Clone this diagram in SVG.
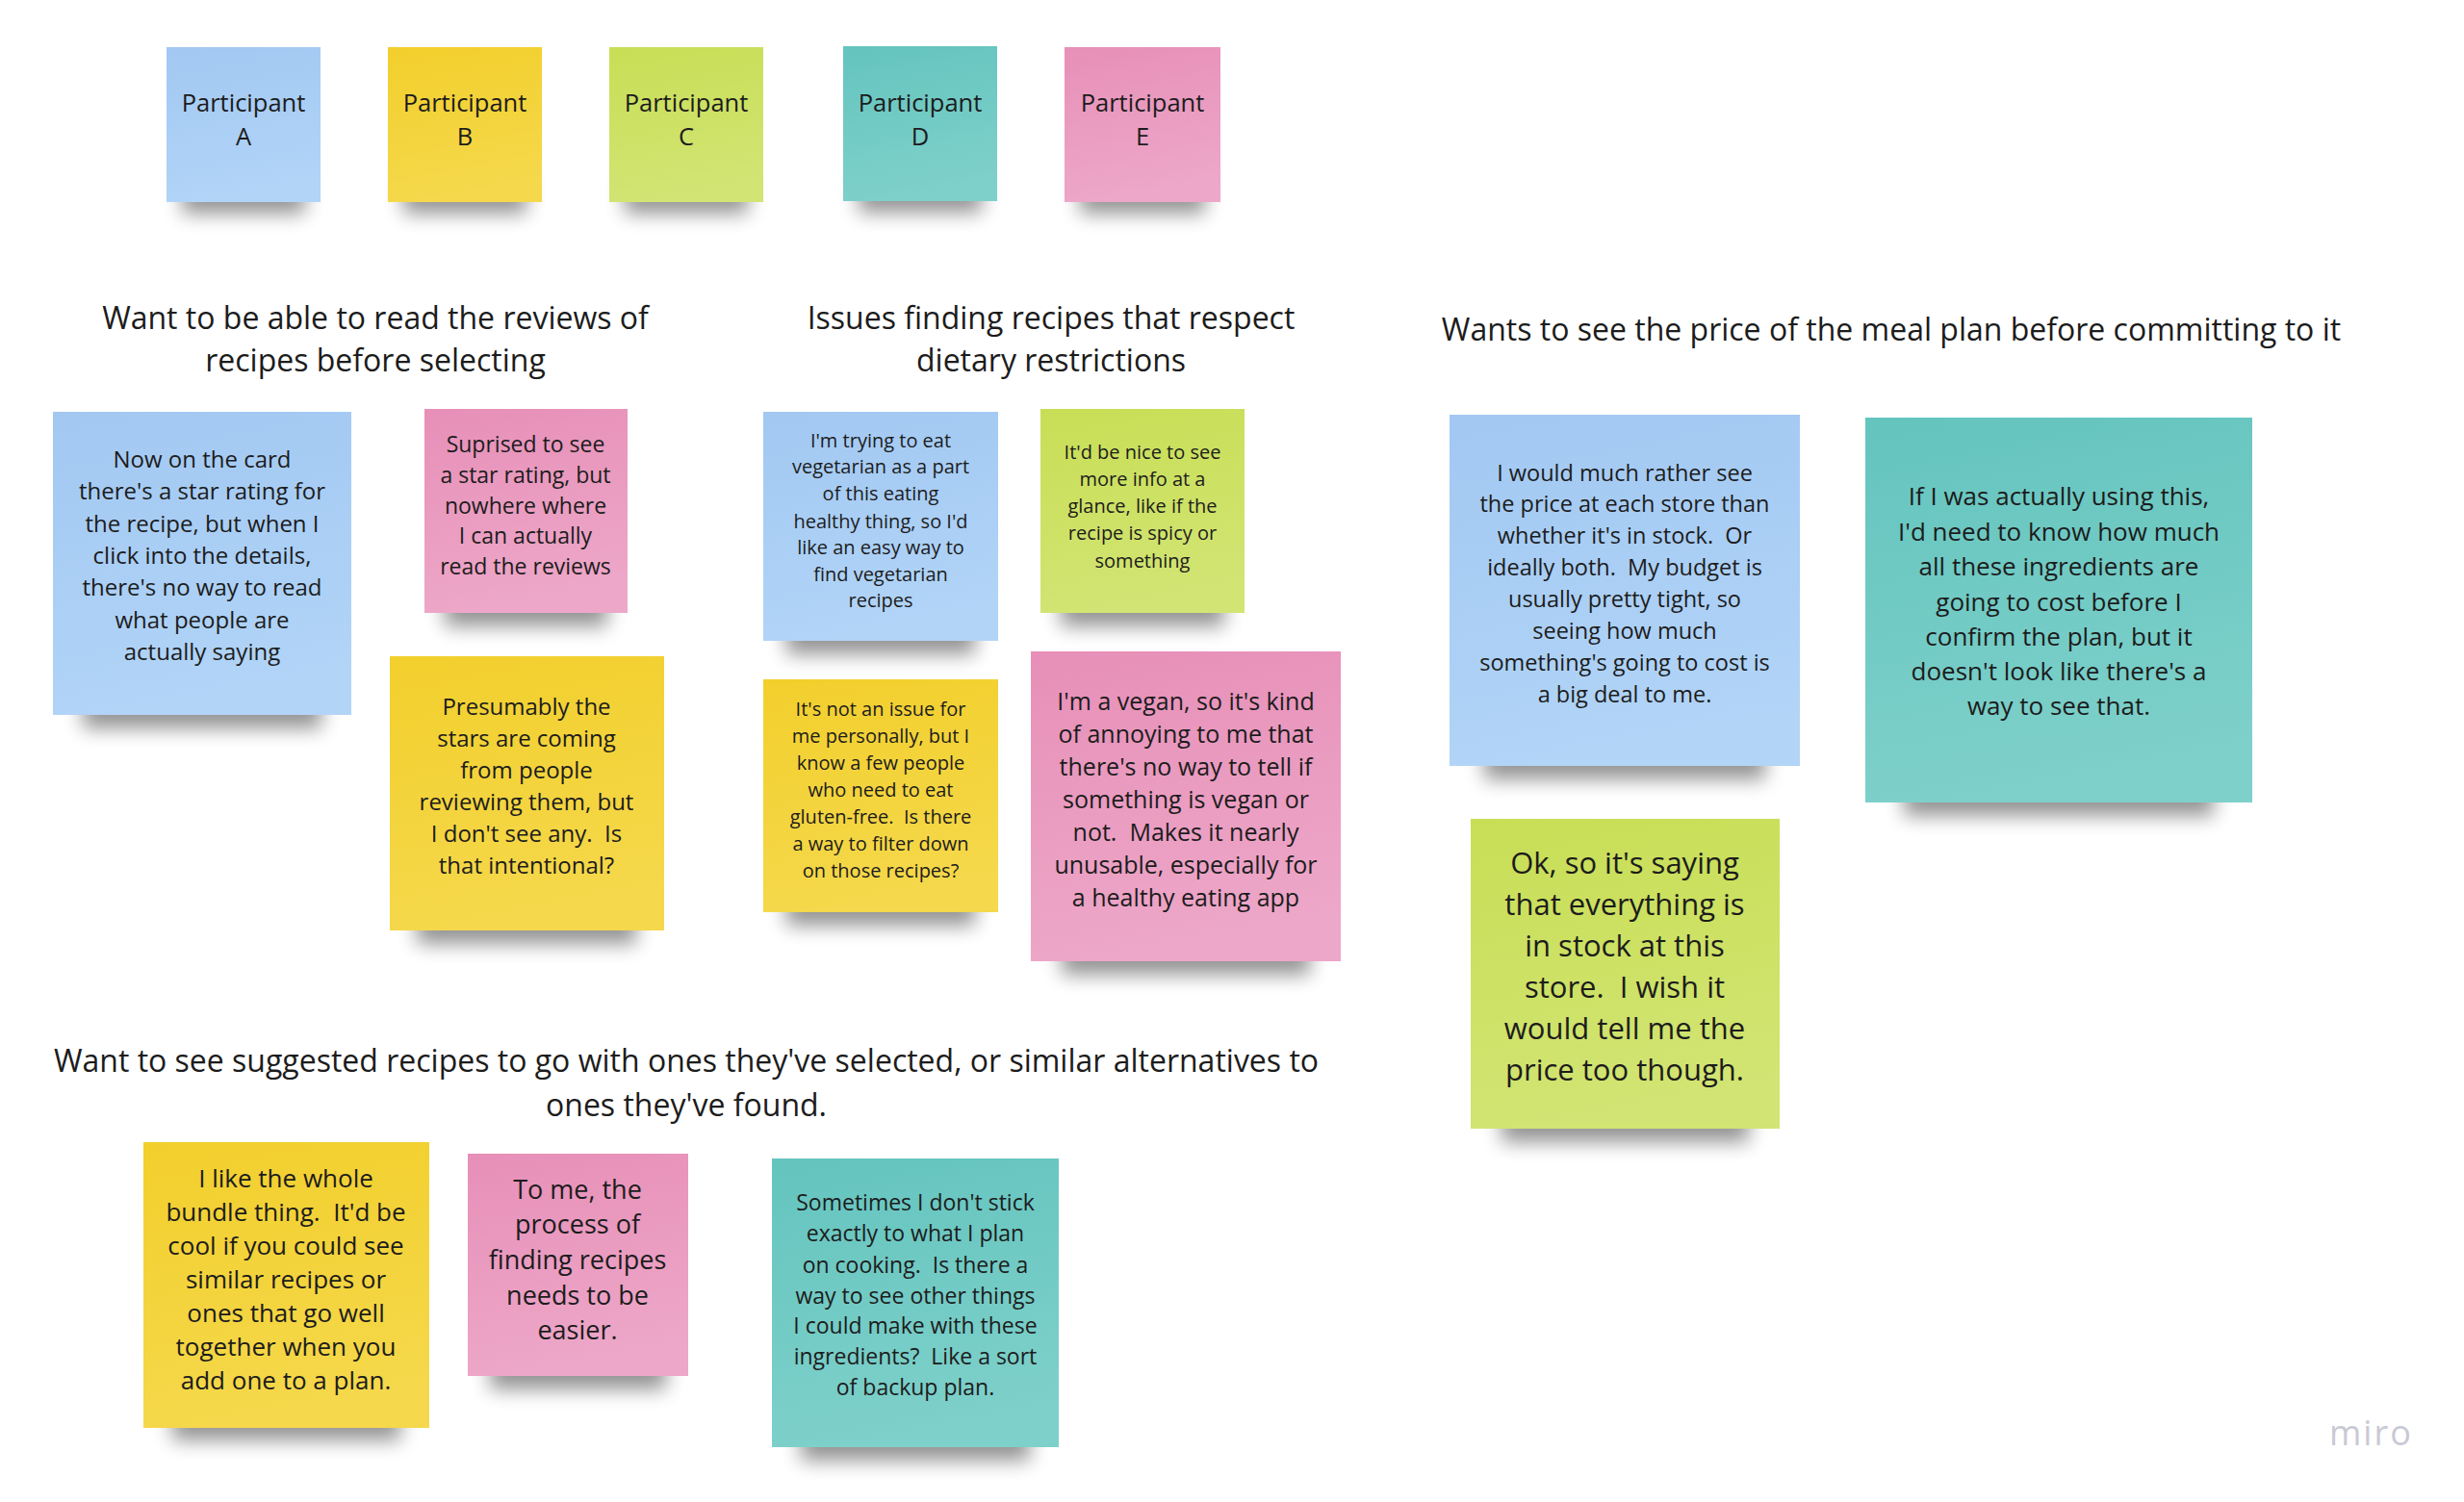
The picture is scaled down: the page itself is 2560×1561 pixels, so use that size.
<svg xmlns="http://www.w3.org/2000/svg" width="2560" height="1561" viewBox="0 0 2560 1561">
<style>
text{font-family:"Open Sans","Noto Sans","Liberation Sans",sans-serif;fill:#1c1c1c;text-anchor:middle}
.h{font-size:32px}
.shadow{fill:#000;opacity:.42;filter:url(#sh)}
.blue{fill:url(#gBlue)}
.yellow{fill:url(#gYellow)}
.green{fill:url(#gGreen)}
.teal{fill:url(#gTeal)}
.pink{fill:url(#gPink)}
.logo{font-size:36px;fill:#c9c9d4;letter-spacing:2px;text-anchor:start}
</style>
<defs>
<filter id="sh" x="-20%" y="-100%" width="140%" height="300%"><feGaussianBlur stdDeviation="10"/></filter>
<linearGradient id="gBlue" x1="0" y1="0" x2="0.2" y2="1"><stop offset="0" stop-color="#a2c8f2"/><stop offset="1" stop-color="#b1d4f7"/></linearGradient>
<linearGradient id="gYellow" x1="0" y1="0" x2="0.2" y2="1"><stop offset="0" stop-color="#f2cf2c"/><stop offset="1" stop-color="#f5d84b"/></linearGradient>
<linearGradient id="gGreen" x1="0" y1="0" x2="0.2" y2="1"><stop offset="0" stop-color="#c8de55"/><stop offset="1" stop-color="#d2e473"/></linearGradient>
<linearGradient id="gTeal" x1="0" y1="0" x2="0.2" y2="1"><stop offset="0" stop-color="#64c4be"/><stop offset="1" stop-color="#7ed0ca"/></linearGradient>
<linearGradient id="gPink" x1="0" y1="0" x2="0.2" y2="1"><stop offset="0" stop-color="#e78fb8"/><stop offset="1" stop-color="#eda7c8"/></linearGradient>
</defs>
<rect width="2560" height="1561" fill="#ffffff"/>

<g id="connectors"/>

<!-- Participants -->
<g id="participant-a">
<rect class="shadow" x="189" y="182" width="128" height="40"/>
<rect class="blue" x="173" y="49" width="160" height="161"/>
<text x="253" y="116" font-size="25.5">Participant</text>
<text x="253" y="151" font-size="25.5">A</text>
</g>
<g id="participant-b">
<rect class="shadow" x="419" y="182" width="128" height="40"/>
<rect class="yellow" x="403" y="49" width="160" height="161"/>
<text x="483" y="116" font-size="25.5">Participant</text>
<text x="483" y="151" font-size="25.5">B</text>
</g>
<g id="participant-c">
<rect class="shadow" x="649" y="182" width="128" height="40"/>
<rect class="green" x="633" y="49" width="160" height="161"/>
<text x="713" y="116" font-size="25.5">Participant</text>
<text x="713" y="151" font-size="25.5">C</text>
</g>
<g id="participant-d">
<rect class="shadow" x="892" y="181" width="128" height="40"/>
<rect class="teal" x="876" y="48" width="160" height="161"/>
<text x="956" y="116" font-size="25.5">Participant</text>
<text x="956" y="151" font-size="25.5">D</text>
</g>
<g id="participant-e">
<rect class="shadow" x="1122" y="182" width="130" height="40"/>
<rect class="pink" x="1106" y="49" width="162" height="161"/>
<text x="1187" y="116" font-size="25.5">Participant</text>
<text x="1187" y="151" font-size="25.5">E</text>
</g>

<!-- Headings -->
<g id="heading-reviews">
<text class="h" x="390" y="342">Want to be able to read the reviews of</text>
<text class="h" x="390" y="386">recipes before selecting</text>
</g>
<g id="heading-dietary">
<text class="h" x="1092" y="342">Issues finding recipes that respect</text>
<text class="h" x="1092" y="386">dietary restrictions</text>
</g>
<g id="heading-price">
<text class="h" x="1965" y="354">Wants to see the price of the meal plan before committing to it</text>
</g>
<g id="heading-suggested">
<text class="h" x="713" y="1114">Want to see suggested recipes to go with ones they've selected, or similar alternatives to</text>
<text class="h" x="713" y="1160">ones they've found.</text>
</g>

<!-- Reviews group -->
<g id="note-star-rating">
<rect class="shadow" x="86" y="713" width="248" height="44"/>
<rect class="blue" x="55" y="428" width="310" height="315"/>
<g font-size="24">
<text x="210" y="486">Now on the card</text>
<text x="210" y="519">there's a star rating for</text>
<text x="210" y="553">the recipe, but when I</text>
<text x="210" y="586">click into the details,</text>
<text x="210" y="619">there's no way to read</text>
<text x="210" y="653">what people are</text>
<text x="210" y="686">actually saying</text>
</g>
</g>
<g id="note-suprised">
<rect class="shadow" x="462" y="607" width="169" height="44"/>
<rect class="pink" x="441" y="425" width="211" height="212"/>
<g font-size="23">
<text x="546" y="470">Suprised to see</text>
<text x="546" y="502">a star rating, but</text>
<text x="546" y="534">nowhere where</text>
<text x="546" y="565">I can actually</text>
<text x="546" y="597">read the reviews</text>
</g>
</g>
<g id="note-presumably">
<rect class="shadow" x="433" y="937" width="228" height="44"/>
<rect class="yellow" x="405" y="682" width="285" height="285"/>
<g font-size="24">
<text x="547" y="743">Presumably the</text>
<text x="547" y="776">stars are coming</text>
<text x="547" y="809">from people</text>
<text x="547" y="842">reviewing them, but</text>
<text x="547" y="875">I don't see any.&#160; Is</text>
<text x="547" y="908">that intentional?</text>
</g>
</g>

<!-- Dietary group -->
<g id="note-vegetarian">
<rect class="shadow" x="817" y="636" width="196" height="44"/>
<rect class="blue" x="793" y="428" width="244" height="238"/>
<g font-size="20">
<text x="915" y="465">I'm trying to eat</text>
<text x="915" y="492">vegetarian as a part</text>
<text x="915" y="520">of this eating</text>
<text x="915" y="549">healthy thing, so I'd</text>
<text x="915" y="576">like an easy way to</text>
<text x="915" y="604">find vegetarian</text>
<text x="915" y="631">recipes</text>
</g>
</g>
<g id="note-spicy">
<rect class="shadow" x="1102" y="607" width="170" height="44"/>
<rect class="green" x="1081" y="425" width="212" height="212"/>
<g font-size="20">
<text x="1187" y="477">It'd be nice to see</text>
<text x="1187" y="505">more info at a</text>
<text x="1187" y="533">glance, like if the</text>
<text x="1187" y="561">recipe is spicy or</text>
<text x="1187" y="590">something</text>
</g>
</g>
<g id="note-gluten">
<rect class="shadow" x="817" y="918" width="196" height="44"/>
<rect class="yellow" x="793" y="706" width="244" height="242"/>
<g font-size="20">
<text x="915" y="744">It's not an issue for</text>
<text x="915" y="772">me personally, but I</text>
<text x="915" y="800">know a few people</text>
<text x="915" y="828">who need to eat</text>
<text x="915" y="856">gluten-free.&#160; Is there</text>
<text x="915" y="884">a way to filter down</text>
<text x="915" y="912">on those recipes?</text>
</g>
</g>
<g id="note-vegan">
<rect class="shadow" x="1103" y="969" width="258" height="44"/>
<rect class="pink" x="1071" y="677" width="322" height="322"/>
<g font-size="25">
<text x="1232" y="738">I'm a vegan, so it's kind</text>
<text x="1232" y="772">of annoying to me that</text>
<text x="1232" y="806">there's no way to tell if</text>
<text x="1232" y="840">something is vegan or</text>
<text x="1232" y="874">not.&#160; Makes it nearly</text>
<text x="1232" y="908">unusable, especially for</text>
<text x="1232" y="942">a healthy eating app</text>
</g>
</g>

<!-- Price group -->
<g id="note-price-store">
<rect class="shadow" x="1542" y="766" width="292" height="44"/>
<rect class="blue" x="1506" y="431" width="364" height="365"/>
<g font-size="23.5">
<text x="1688" y="500">I would much rather see</text>
<text x="1688" y="532">the price at each store than</text>
<text x="1688" y="565">whether it's in stock.&#160; Or</text>
<text x="1688" y="598">ideally both.&#160; My budget is</text>
<text x="1688" y="631">usually pretty tight, so</text>
<text x="1688" y="664">seeing how much</text>
<text x="1688" y="697">something's going to cost is</text>
<text x="1688" y="730">a big deal to me.</text>
</g>
</g>
<g id="note-cost">
<rect class="shadow" x="1978" y="804" width="322" height="44"/>
<rect class="teal" x="1938" y="434" width="402" height="400"/>
<g font-size="26">
<text x="2139" y="525">If I was actually using this,</text>
<text x="2139" y="562">I'd need to know how much</text>
<text x="2139" y="598">all these ingredients are</text>
<text x="2139" y="635">going to cost before I</text>
<text x="2139" y="671">confirm the plan, but it</text>
<text x="2139" y="707">doesn't look like there's a</text>
<text x="2139" y="743">way to see that.</text>
</g>
</g>
<g id="note-in-stock">
<rect class="shadow" x="1560" y="1143" width="257" height="44"/>
<rect class="green" x="1528" y="851" width="321" height="322"/>
<g font-size="31">
<text x="1688" y="908">Ok, so it's saying</text>
<text x="1688" y="951">that everything is</text>
<text x="1688" y="994">in stock at this</text>
<text x="1688" y="1037">store.&#160; I wish it</text>
<text x="1688" y="1080">would tell me the</text>
<text x="1688" y="1123">price too though.</text>
</g>
</g>

<!-- Suggested group -->
<g id="note-bundle">
<rect class="shadow" x="179" y="1453" width="237" height="44"/>
<rect class="yellow" x="149" y="1187" width="297" height="297"/>
<g font-size="26">
<text x="297" y="1234">I like the whole</text>
<text x="297" y="1269">bundle thing.&#160; It'd be</text>
<text x="297" y="1304">cool if you could see</text>
<text x="297" y="1339">similar recipes or</text>
<text x="297" y="1374">ones that go well</text>
<text x="297" y="1409">together when you</text>
<text x="297" y="1444">add one to a plan.</text>
</g>
</g>
<g id="note-process">
<rect class="shadow" x="509" y="1400" width="183" height="44"/>
<rect class="pink" x="486" y="1199" width="229" height="231"/>
<g font-size="27">
<text x="600" y="1246">To me, the</text>
<text x="600" y="1282">process of</text>
<text x="600" y="1319">finding recipes</text>
<text x="600" y="1356">needs to be</text>
<text x="600" y="1392">easier.</text>
</g>
</g>
<g id="note-backup">
<rect class="shadow" x="832" y="1474" width="238" height="44"/>
<rect class="teal" x="802" y="1204" width="298" height="300"/>
<g font-size="23">
<text x="951" y="1258">Sometimes I don't stick</text>
<text x="951" y="1290">exactly to what I plan</text>
<text x="951" y="1323">on cooking.&#160; Is there a</text>
<text x="951" y="1355">way to see other things</text>
<text x="951" y="1386">I could make with these</text>
<text x="951" y="1418">ingredients?&#160; Like a sort</text>
<text x="951" y="1450">of backup plan.</text>
</g>
</g>

<text class="logo" x="2420" y="1502">miro</text>
</svg>
